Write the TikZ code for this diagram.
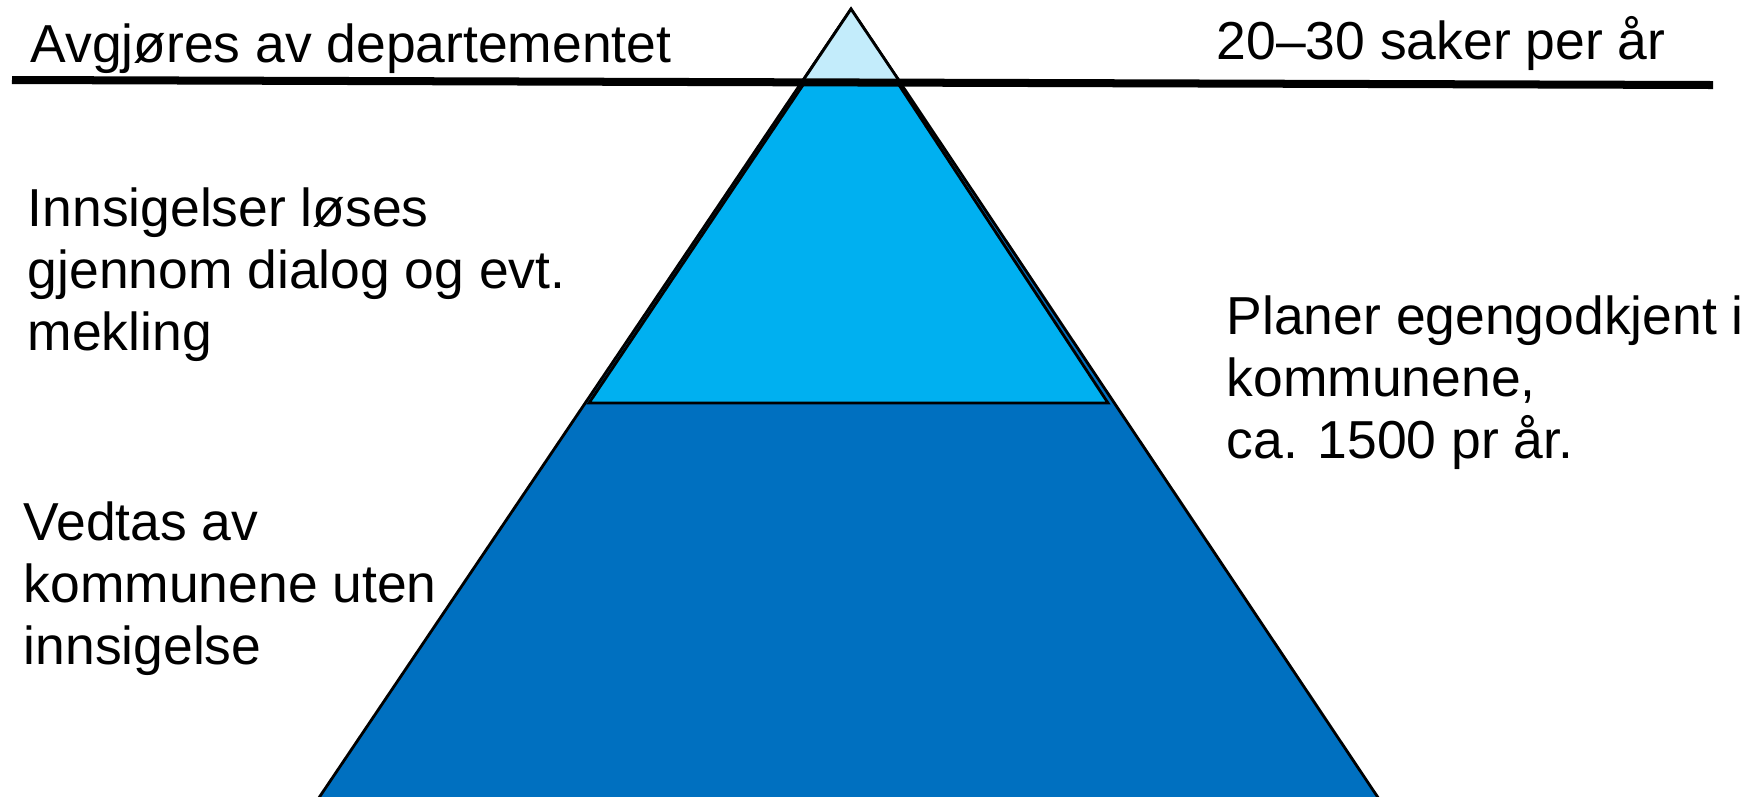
\documentclass[tikz,border=0pt]{standalone}
\usepackage{fontspec}
\setmainfont{Liberation Sans}
\usetikzlibrary{positioning}
\tikzset{>=latex}
\definecolor{tipblue}{RGB}{195,236,251}
\definecolor{midblue}{RGB}{0,176,240}
\definecolor{baseblue}{RGB}{0,112,192}
\tikzset{
  sidetext/.style={anchor=base west, inner sep=0pt, align=left, font=\fontsize{15.2}{17.6}\selectfont},
  layer/.style={draw=black, line width=0.8pt, line join=miter}
}

\begin{document}
\begin{tikzpicture}[x=0.01cm, y=-0.01cm]
      \useasboundingbox (0,0) rectangle (1749,796);
      \clip (0,0) rectangle (1749,796);
      % corner points of the pyramid
      \coordinate (apex) at (851,9);
      \coordinate (bl) at (310,811);
      \coordinate (br) at (1387,811);
      % big triangle, then the middle band, then the tip
      \draw[layer, fill=baseblue] (apex) -- (bl) -- (br) -- cycle;
      \draw[layer, fill=midblue] (805,82) -- (897,82) -- (1108,403) -- (589,403) -- cycle;
      \draw[layer, fill=tipblue] (apex) -- (802,82) -- (900,82) -- cycle;
      % the waterline
      \coordinate (wl) at (12,80);
      \coordinate (wr) at (1713,85);
      \draw[line width=0.08cm] (wl) -- (wr);
      % texts (base = last line)
      \node[sidetext] (dept) at (30,62) {Avgjøres av departementet};
      \node[sidetext] (saker) at (1216,59) {20–30 saker per år};
      \node[sidetext] (dialog) at (27,350) {Innsigelser løses\\gjennom dialog og evt.\\mekling};
      \node[sidetext] (vedtas) at (23,664) {Vedtas av\\kommunene uten\\innsigelse};
      \node[sidetext] (planer) at (1226,458) {Planer egengodkjent i\\kommunene,\\ca. 1500 pr år.};
\end{tikzpicture}
\end{document}
